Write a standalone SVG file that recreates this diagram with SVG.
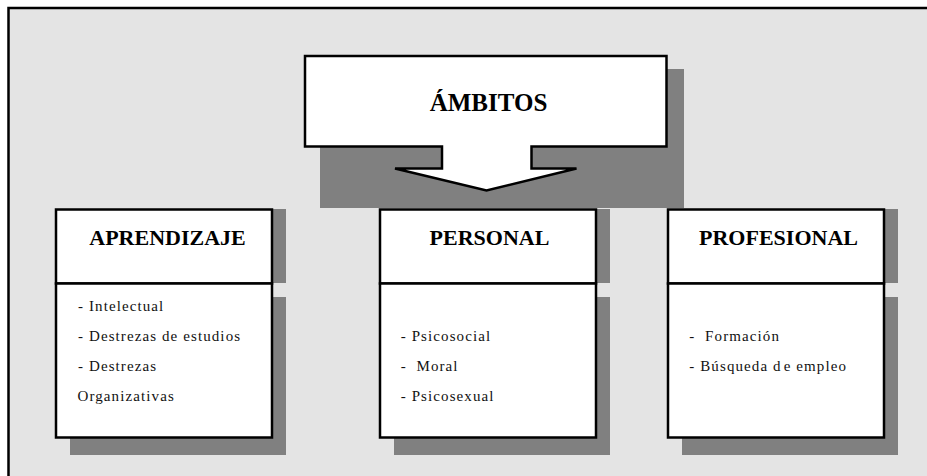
<svg xmlns="http://www.w3.org/2000/svg" width="927" height="476" viewBox="0 0 927 476">
<style>
.shadow{fill:#808080;stroke:none}
.box{fill:#ffffff;stroke:#000000;stroke-width:2.5}
.title{font-family:"Liberation Serif","Times New Roman",serif;font-weight:bold;font-size:22px;fill:#000000;text-anchor:middle}
.big{font-size:25px}
.item{font-family:"Liberation Serif","Times New Roman",serif;font-size:15px;letter-spacing:1.1px;fill:#111111}
</style>
<rect x="0" y="0" width="927" height="476" fill="#ffffff"/>
<rect x="8.5" y="8" width="918.5" height="468" fill="#e4e4e4"/>
<path d="M8.5,476 V8 H927" fill="none" stroke="#000000" stroke-width="2.5"/>

<g id="ambitos">
<rect class="shadow" x="320" y="69" width="364" height="139"/>
<path class="box" d="M305,56 H666.5 V146.5 H531.5 V168.5 H576.5 L486.5,190.5 L395,168.5 H442 V146.5 H305 Z"/>
<text class="title big" x="488.5" y="111">ÁMBITOS</text>
</g>

<g id="connectors"></g>

<g id="aprendizaje">
<rect class="shadow" x="70" y="209" width="216" height="74"/>
<rect class="shadow" x="70" y="297" width="216" height="158"/>
<rect class="box" x="56" y="209.5" width="216" height="74"/>
<rect class="box" x="56" y="283.5" width="216" height="154"/>
<text class="title" x="167.5" y="245">APRENDIZAJE</text>
<text class="item" x="78" y="310.7">- Intelectual</text>
<text class="item" x="78" y="340.7">- Destrezas de estudios</text>
<text class="item" x="78" y="370.7">- Destrezas</text>
<text class="item" x="77.5" y="400.7">Organizativas</text>
</g>

<g id="personal">
<rect class="shadow" x="394" y="209" width="216" height="74"/>
<rect class="shadow" x="394" y="297" width="216" height="158"/>
<rect class="box" x="380" y="209.5" width="216" height="74"/>
<rect class="box" x="380" y="283.5" width="216" height="154"/>
<text class="title" x="489.5" y="245">PERSONAL</text>
<text class="item" x="400.7" y="340.7">- Psicosocial</text>
<text class="item" x="400.7" y="370.7" xml:space="preserve">-  Moral</text>
<text class="item" x="400.7" y="400.7">- Psicosexual</text>
</g>

<g id="profesional">
<rect class="shadow" x="682" y="209" width="216" height="74"/>
<rect class="shadow" x="682" y="297" width="216" height="158"/>
<rect class="box" x="668" y="209.5" width="216" height="74"/>
<rect class="box" x="668" y="283.5" width="216" height="154"/>
<text class="title" x="778.5" y="245">PROFESIONAL</text>
<text class="item" x="689.3" y="340.7" xml:space="preserve">-  Formación</text>
<text class="item" x="689.3" y="370.7">- Búsqueda d<tspan dx="2">e empleo</tspan></text>
</g>
</svg>
